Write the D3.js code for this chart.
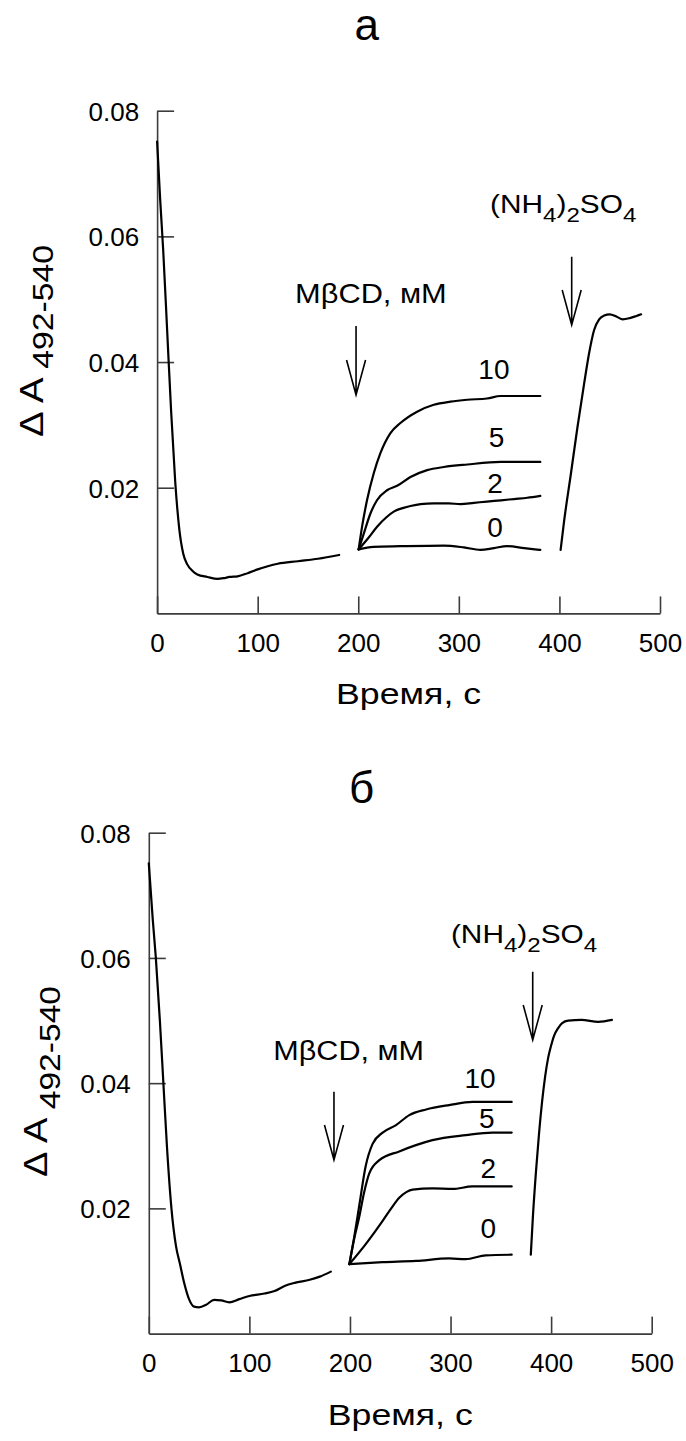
<!DOCTYPE html>
<html>
<head>
<meta charset="utf-8">
<script src="https://cdn.jsdelivr.net/npm/d3@7"></script>
<style>
  html, body { margin: 0; padding: 0; background: #fff; }
  svg { display: block; }
  text { font-family: "Liberation Sans", Arial, Helvetica, sans-serif; fill: #000; }
</style>
</head>
<body>
<svg id="chart" width="686" height="1441"></svg>
<script>
// ---- shared axis ticks ----
const timeTicks = [0, 100, 200, 300, 400, 500];
const absTicks = [0.02, 0.04, 0.06, 0.08];
const concLabels = ["10", "5", "2", "0"];           // MβCD, мМ

// ---- panel а ----
const aPreTime = [0, 3, 6, 10, 14, 18, 22, 26, 30, 35, 40, 50, 60, 66, 72, 80, 90, 100, 110, 120, 140, 160, 181];
const aPreAbs  = [0.0751, 0.066, 0.058, 0.045, 0.032, 0.021, 0.0135, 0.0095, 0.0078, 0.0068, 0.0062, 0.0058, 0.0055, 0.0056, 0.0058, 0.0059, 0.0064, 0.0070, 0.0075, 0.0079, 0.0083, 0.0087, 0.0093];

const aC0Time  = [200.4, 215, 242, 285, 305, 321.5, 335, 348, 365, 381];
const aC0Abs   = [0.0102, 0.0106, 0.0107, 0.0108, 0.0105, 0.0101, 0.0104, 0.0107, 0.0104, 0.0101];
const aC2Time  = [200.4, 210, 218.7, 228, 235.3, 245, 251.9, 262, 275, 290, 301.6, 315, 328, 342, 355, 368, 381];
const aC2Abs   = [0.0102, 0.0120, 0.0138, 0.0153, 0.0162, 0.0168, 0.0171, 0.0174, 0.0175, 0.0175, 0.0174, 0.0176, 0.0178, 0.0180, 0.0182, 0.0184, 0.0187];
const aC5Time  = [200.4, 205.5, 212.1, 218.6, 228.6, 238.6, 251.9, 268.5, 285.1, 308.4, 341.6, 381];
const aC5Abs   = [0.0102, 0.0127, 0.0159, 0.0180, 0.0196, 0.0203, 0.0217, 0.0228, 0.0233, 0.0237, 0.0241, 0.0241];
const aC10Time = [200.4, 204, 208.7, 215.4, 222, 232, 241.9, 258.5, 275.1, 291.7, 308.3, 328, 341.5, 360, 381];
const aC10Abs  = [0.0102, 0.0140, 0.0180, 0.0223, 0.0255, 0.0287, 0.0303, 0.0321, 0.0332, 0.0337, 0.0340, 0.0342, 0.0346, 0.0346, 0.0346];

const aSaltTime = [401.2, 404.5, 411.3, 418, 424.6, 429.5, 434.5, 439.5, 444.5, 450, 457, 463, 470, 476, 481.2];
const aSaltAbs  = [0.0101, 0.0145, 0.0221, 0.0297, 0.0366, 0.0414, 0.0451, 0.0468, 0.0474, 0.0476, 0.0472, 0.0468, 0.0470, 0.0473, 0.0476];

// ---- panel б ----
const bPreTime = [0, 4, 7, 11, 14.5, 18, 22.5, 27, 31, 35, 40, 45, 50, 57, 65, 72, 80, 90, 100, 115, 125, 135, 145, 160, 170, 181];
const bPreAbs  = [0.0751, 0.066, 0.060, 0.050, 0.040, 0.030, 0.020, 0.014, 0.0111, 0.0082, 0.0055, 0.0043, 0.0042, 0.0046, 0.0054, 0.0053, 0.0050, 0.0055, 0.0060, 0.0064, 0.0068, 0.0076, 0.0081, 0.0086, 0.0091, 0.0099];

const bC0Time  = [199.4, 232.5, 265.6, 298.6, 315, 335, 360.8];
const bC0Abs   = [0.0111, 0.0114, 0.0116, 0.0120, 0.0119, 0.0125, 0.0126];
const bC2Time  = [199.4, 215.7, 232.5, 241, 249, 256, 262.3, 282, 302, 321.8, 340, 360.8];
const bC2Abs   = [0.0111, 0.0143, 0.0180, 0.0200, 0.0217, 0.0226, 0.0230, 0.0232, 0.0231, 0.0235, 0.0235, 0.0235];
const bC5Time  = [199.4, 204, 209.3, 214, 219.2, 229.2, 249, 265.6, 282, 315.2, 341.6, 360.8];
const bC5Abs   = [0.0111, 0.0150, 0.0187, 0.0225, 0.0256, 0.0277, 0.0291, 0.0301, 0.0309, 0.0317, 0.0321, 0.0321];
const bC10Time = [199.4, 204, 209.3, 215.7, 222.5, 232.5, 245.8, 259, 275.7, 298.6, 321.8, 341, 360.8];
const bC10Abs  = [0.0111, 0.0152, 0.0205, 0.0268, 0.0303, 0.0321, 0.0333, 0.0349, 0.0358, 0.0365, 0.0370, 0.0370, 0.0370];

const bSaltTime = [379.8, 382, 385, 388, 391, 394, 397, 400, 403, 407, 411, 417, 430, 447, 460.5];
const bSaltAbs  = [0.0126, 0.0190, 0.0260, 0.0320, 0.0370, 0.0410, 0.0440, 0.0460, 0.0476, 0.0488, 0.0496, 0.0500, 0.0501, 0.0498, 0.0501];

const zip = (t, v) => t.map((d, i) => [d, v[i]]);

// layout of the two panels (pixels) and annotation anchors (data units)
const panels = [
  {
    title: "а", titleX: 366.7, titleY: 40,
    box: { x: 157.1, y: 110.7, w: 502.9, h: 502.7 },
    traces: [zip(aPreTime, aPreAbs), zip(aC0Time, aC0Abs), zip(aC2Time, aC2Abs),
             zip(aC5Time, aC5Abs), zip(aC10Time, aC10Abs), zip(aSaltTime, aSaltAbs)],
    concPos: [[334.9, 0.03725], [337.6, 0.02643], [335.9, 0.01911], [335.9, 0.01221]],
    mbcd: { t: 137.2, v: 0.04935, w: 151.7 }, mbcdArrow: { t: 197.8, v0: 0.04573, v1: 0.03476 },
    salt: { t: 331, v: 0.06367, w: 146.7 }, saltArrow: { t: 412.2, v0: 0.05676, v1: 0.04589 },
    yTitle: { x: 43, cy: 341, len: 192, sub: 10 }
  },
  {
    title: "б", titleX: 361.7, titleY: 803,
    box: { x: 148.8, y: 832.7, w: 502.9, h: 500.9 },
    traces: [zip(bPreTime, bPreAbs), zip(bC0Time, bC0Abs), zip(bC2Time, bC2Abs),
             zip(bC5Time, bC5Abs), zip(bC10Time, bC10Abs), zip(bSaltTime, bSaltAbs)],
    concPos: [[329.3, 0.03918], [336, 0.03279], [337.5, 0.02480], [337.5, 0.01522]],
    mbcd: { t: 123.8, v: 0.0437, w: 150.7 }, mbcdArrow: { t: 184.1, v0: 0.03864, v1: 0.02773 },
    salt: { t: 300.4, v: 0.0624, w: 146.7 }, saltArrow: { t: 381.7, v0: 0.0578, v1: 0.0469 },
    yTitle: { x: 47, cy: 1081.5, len: 191, sub: 13 }
  }
];

const svg = d3.select("#chart");
svg.append("rect").attr("width", 686).attr("height", 1441).attr("fill", "#fff");

// stretch a text group along its reading direction to a given length
function fit(g, x, y, len, rot) {
  const w = g.node().getBBox().width;
  const s = len / w;
  g.attr("transform", `translate(${x},${y}) rotate(${rot || 0}) scale(${s},1)`);
}

panels.forEach(p => {
  const { x, y, w, h } = p.box;
  const xs = d3.scaleLinear().domain([0, 500]).range([x, x + w]);
  const ys = d3.scaleLinear().domain([0, 0.08]).range([y + h, y]);

  // panel letter
  svg.append("text").attr("x", p.titleX).attr("y", p.titleY)
    .attr("text-anchor", "middle").attr("font-size", 44).text(p.title);

  // axes with inward ticks
  const yAxis = d3.axisLeft(ys).tickValues(absTicks).tickSizeInner(-17).tickSizeOuter(0)
    .tickPadding(18).tickFormat(d3.format(".2f"));
  const xAxis = d3.axisBottom(xs).tickValues(timeTicks).tickSizeInner(-17).tickSizeOuter(0)
    .tickPadding(20).tickFormat(d3.format("d"));

  const gy = svg.append("g").attr("transform", `translate(${x},0)`).call(yAxis);
  const gx = svg.append("g").attr("transform", `translate(0,${y + h})`).call(xAxis);
  [gy, gx].forEach(g => {
    g.selectAll("path, line").attr("stroke", "#3c3c3c").attr("stroke-width", 1.6);
    g.selectAll("text").attr("font-size", 26).attr("fill", "#000")
      .style("font-family", '"Liberation Sans", Arial, sans-serif');
  });
  gy.selectAll("text").attr("dy", "0.36em");

  // x-axis title
  const xt = svg.append("g");
  xt.append("text").attr("text-anchor", "middle").attr("font-size", 30).text("Время, с");
  fit(xt, x + w / 2, y + h + 91, 145);

  // y-axis title with subscript wavelengths
  const yt = svg.append("g");
  const ytx = yt.append("text").attr("text-anchor", "middle");
  ytx.append("tspan").attr("font-size", 34).text("Δ A ");
  ytx.append("tspan").attr("font-size", 30).attr("dy", p.yTitle.sub).text("492-540");
  fit(yt, p.yTitle.x, p.yTitle.cy, p.yTitle.len, -90);

  // kinetic traces
  const line = d3.line().x(d => xs(d[0])).y(d => ys(d[1])).curve(d3.curveMonotoneX);
  svg.append("g").selectAll("path").data(p.traces).join("path")
    .attr("d", line).attr("fill", "none").attr("stroke", "#000")
    .attr("stroke-width", 2.2).attr("stroke-linejoin", "round").attr("stroke-linecap", "round");

  // concentration labels
  svg.append("g").selectAll("text").data(concLabels).join("text")
    .attr("x", (d, i) => xs(p.concPos[i][0])).attr("y", (d, i) => ys(p.concPos[i][1]))
    .attr("text-anchor", "middle").attr("font-size", 28).text(d => d);

  // annotation labels
  const mt = svg.append("g");
  mt.append("text").attr("font-size", 28).text("MβCD, мМ");
  fit(mt, xs(p.mbcd.t), ys(p.mbcd.v), p.mbcd.w);

  const st = svg.append("g");
  const stx = st.append("text").attr("font-size", 26);
  stx.append("tspan").text("(NH");
  stx.append("tspan").attr("font-size", 21).attr("dy", 9).text("4");
  stx.append("tspan").attr("dy", -9).text(")");
  stx.append("tspan").attr("font-size", 21).attr("dy", 9).text("2");
  stx.append("tspan").attr("dy", -9).text("SO");
  stx.append("tspan").attr("font-size", 21).attr("dy", 9).text("4");
  fit(st, xs(p.salt.t), ys(p.salt.v), p.salt.w);

  // open arrows marking additions
  [p.mbcdArrow, p.saltArrow].forEach(a => {
    const ax = xs(a.t), y0 = ys(a.v0), y1 = ys(a.v1);
    svg.append("path")
      .attr("d", `M${ax},${y0}V${y1}M${ax - 9.5},${y1 - 35}L${ax},${y1}L${ax + 9.5},${y1 - 35}`)
      .attr("fill", "none").attr("stroke", "#000").attr("stroke-width", 1.6);
  });
});
</script>
</body>
</html>
